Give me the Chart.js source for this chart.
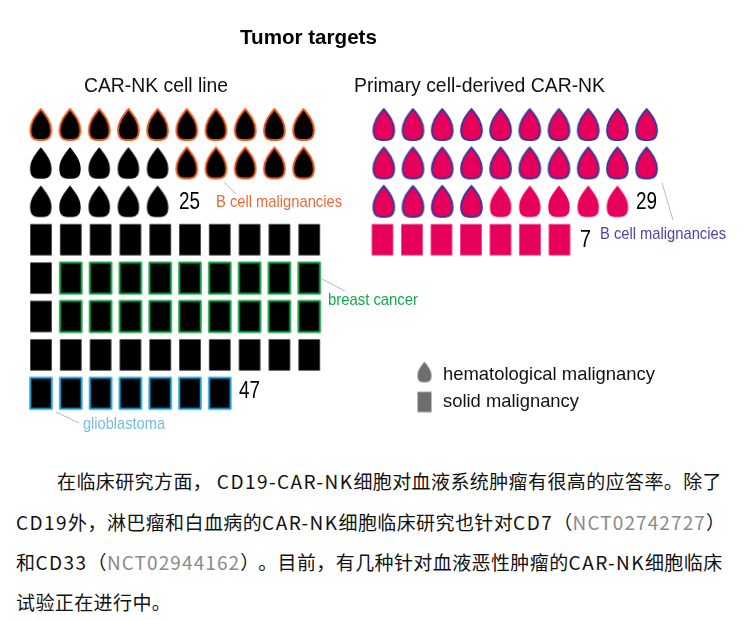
<!DOCTYPE html>
<html lang="zh">
<head>
<meta charset="utf-8">
<script src="https://cdn.jsdelivr.net/npm/chart.js@4/dist/chart.umd.min.js"></script>
<style>
html,body{margin:0;padding:0;background:#fff;width:745px;height:620px;overflow:hidden}
#wrap{position:relative;width:745px;height:620px}
canvas{position:absolute;left:0;top:0}
.l{position:absolute;left:16px;white-space:nowrap;font:19px/40px "Noto Sans CJK SC",sans-serif;color:#111;letter-spacing:.4px}
.l i{font-style:normal;letter-spacing:1.45px}
.l i.g{color:#8a8a8a;letter-spacing:1.1px}
.l u{text-decoration:none;margin-left:8px}
</style>
</head>
<body>
<div id="wrap">
<canvas id="c" width="745" height="450"></canvas>
<div class="l" style="top:461px;left:57px">在临床研究方面， <i>CD19-CAR-NK</i>细胞对血液系统肿瘤有很高的应答率。除了</div>
<div class="l" style="top:502px"><i>CD19</i>外，淋巴瘤和白血病的<i>CAR-NK</i>细胞临床研究也针对<i>CD7</i>（<i class="g">NCT02742727</i>）</div>
<div class="l" style="top:542px">和<i>CD33</i>（<i class="g">NCT02944162</i>）<u>。</u>目前，有几种针对血液恶性肿瘤的<i>CAR-NK</i>细胞临床</div>
<div class="l" style="top:582px">试验正在进行中。</div>
</div>
<script>
// Pictogram data: one letter = one clinical trial, one string = one row of the grid
// B = B cell malignancies, G = breast cancer, L = glioblastoma, o = other
const cellLineHematological = ['BBBBBBBBBB', 'oooooBBBBB', 'ooooo'];
const cellLineSolid = ['oooooooooo', 'oGGGGGGGGG', 'oGGGGGGGGG', 'oooooooooo', 'LLLLLLL'];
const primaryHematological = ['BBBBBBBBBB', 'BBBBBBBBBB', 'BBBBooooo'];
const primarySolid = ['ooooooo'];
const totals = [25, 47, 29, 7];
const panelTitles = ['CAR-NK cell line', 'Primary cell-derived CAR-NK'];
const legendLabels = ['hematological malignancy', 'solid malignancy'];
const subgroupLabels = ['B cell malignancies', 'breast cancer', 'glioblastoma'];
const chartTitle = 'Tumor targets';

const BLACK = '#000000', PINK = '#e6005c', ORANGE = '#ee5a1e', NAVY = '#3d3794',
      GREEN = '#0a9e3f', BLUE = '#169fd8', GREY = '#6e6e6e';

function icon(kind, fill, stroke, scale) {
  scale = scale || 1;
  const lw = stroke ? 2 : 0;
  const w = ((kind === 'drop' ? 21.4 : 21.4) - (stroke && kind === 'drop' ? 0.7 : 0)) * scale;
  const h = ((kind === 'drop' ? 31.5 : 31.2) - (stroke && kind === 'drop' ? 0.5 : 0)) * scale;
  const cv = document.createElement('canvas');
  cv.width = Math.ceil(w + lw + 2);
  cv.height = Math.ceil(h + lw + 4);
  const g = cv.getContext('2d');
  const x0 = (cv.width - w) / 2, y0 = (cv.height - h) / 2;
  g.beginPath();
  if (kind === 'drop') {
    const cx = cv.width / 2, r = w / 2, by = y0 + h;
    g.moveTo(cx, y0);
    g.bezierCurveTo(cx + r * .45, y0 + h * .2, cx + r, y0 + h * .4, cx + r, y0 + h * .68);
    g.bezierCurveTo(cx + r, by - h * .05, cx + r * .65, by, cx, by);
    g.bezierCurveTo(cx - r * .65, by, cx - r, by - h * .05, cx - r, y0 + h * .68);
    g.bezierCurveTo(cx - r, y0 + h * .4, cx - r * .45, y0 + h * .2, cx, y0);
    g.closePath();
  } else {
    g.rect(x0, y0, w, h);
  }
  g.fillStyle = fill;
  g.fill();
  if (stroke) { g.strokeStyle = stroke; g.lineWidth = lw; g.lineJoin = 'round'; g.stroke(); }
  return cv;
}

// turn the rows of one panel into points of one subgroup letter
function cells(rows, firstRow, letter) {
  const out = [];
  rows.forEach((row, r) => [...row].forEach((ch, c) => {
    if (ch === letter) out.push({ x: c, y: firstRow + r });
  }));
  return out;
}
function ds(label, data, xAxisID, style) {
  return { label, data, xAxisID, yAxisID: 'y', pointStyle: style, pointRadius: 12, showLine: false };
}

const datasets = [
  ds('Cell line: B cell malignancies', cells(cellLineHematological, 0, 'B'), 'xDropL', icon('drop', BLACK, ORANGE)),
  ds('Cell line: other hematological', cells(cellLineHematological, 0, 'o'), 'xDropL', icon('drop', BLACK)),
  ds('Cell line: other solid', cells(cellLineSolid, 3, 'o'), 'xRectL', icon('rect', BLACK)),
  ds('Cell line: breast cancer', cells(cellLineSolid, 3, 'G'), 'xRectL', icon('rect', BLACK, GREEN)),
  ds('Cell line: glioblastoma', cells(cellLineSolid, 3, 'L'), 'xRectL', icon('rect', BLACK, BLUE)),
  ds('Primary: B cell malignancies', cells(primaryHematological, 0, 'B'), 'xDropR', icon('drop', PINK, NAVY)),
  ds('Primary: other hematological', cells(primaryHematological, 0, 'o'), 'xDropR', icon('drop', PINK)),
  ds('Primary: solid', cells(primarySolid, 3, 'o'), 'xRectR', icon('rect', PINK))
];

// linear scale whose unit is one grid column, placed by its first cell centre and pitch
function colScale(first, pitch) {
  return { type: 'linear', display: false, min: -first / pitch, max: (745 - first) / pitch };
}

const sans = '"Liberation Sans", Arial, sans-serif';
// [text, x, y(mid), font, colour, width]
const texts = [
  [chartTitle, 240, 38, 'bold 20.6px ' + sans, '#000', 137],
  [panelTitles[0], 84, 87, '19.4px ' + sans, '#111', 144],
  [panelTitles[1], 354, 87, '19.4px ' + sans, '#111', 252],
  [String(totals[0]), 179, 203, '23px ' + sans, '#000', 21],
  [String(totals[1]), 239, 392, '23px ' + sans, '#000', 21],
  [String(totals[2]), 636, 203, '23px ' + sans, '#000', 21],
  [String(totals[3]), 580, 241, '23px ' + sans, '#000', 11],
  [subgroupLabels[0], 216, 202, '17px ' + sans, '#ee6a35', 126],
  [subgroupLabels[0], 600, 234, '17px ' + sans, '#4a46a6', 126],
  [subgroupLabels[1], 328, 300, '17px ' + sans, '#16a84a', 90],
  [subgroupLabels[2], 83, 424, '17px ' + sans, '#74bde6', 82],
  [legendLabels[0], 443, 375, '18.5px ' + sans, '#111', 212],
  [legendLabels[1], 443, 402, '18.5px ' + sans, '#111', 136]
];
const leaders = [
  [224, 182, 236, 194], [662, 183, 673, 220], [322, 279, 345, 291], [56, 412, 79, 423]
];
const legendDrop = icon('drop', GREY, null, 0.65);
const legendRect = icon('rect', GREY, null, 0.65);

const annotations = {
  id: 'annotations',
  afterDatasetsDraw(chart) {
    const g = chart.ctx;
    g.save();
    g.strokeStyle = '#b8b8b8';
    g.lineWidth = 1;
    leaders.forEach(([a, b, c, d]) => { g.beginPath(); g.moveTo(a, b); g.lineTo(c, d); g.stroke(); });
    g.textBaseline = 'middle';
    g.textAlign = 'left';
    texts.forEach(([t, x, y, f, col, w]) => { g.font = f; g.fillStyle = col; g.fillText(t, x, y, w); });
    g.drawImage(legendDrop, 424.5 - legendDrop.width / 2, 372 - legendDrop.height / 2);
    g.drawImage(legendRect, 424.5 - legendRect.width / 2, 402 - legendRect.height / 2);
    g.restore();
  }
};

new Chart(document.getElementById('c'), {
  type: 'scatter',
  data: { datasets },
  plugins: [annotations],
  options: {
    responsive: false,
    animation: false,
    layout: { padding: 0, autoPadding: false },
    plugins: { legend: { display: false }, title: { display: false }, tooltip: { enabled: false } },
    scales: {
      xDropL: colScale(40.8, 29.2),
      xRectL: colScale(41, 29.8),
      xDropR: colScale(383.8, 29.2),
      xRectR: colScale(382.5, 29.5),
      y: { type: 'linear', display: false, reverse: true, min: -124.5 / 38.4, max: (450 - 124.5) / 38.4 }
    }
  }
});
</script>
</body>
</html>
